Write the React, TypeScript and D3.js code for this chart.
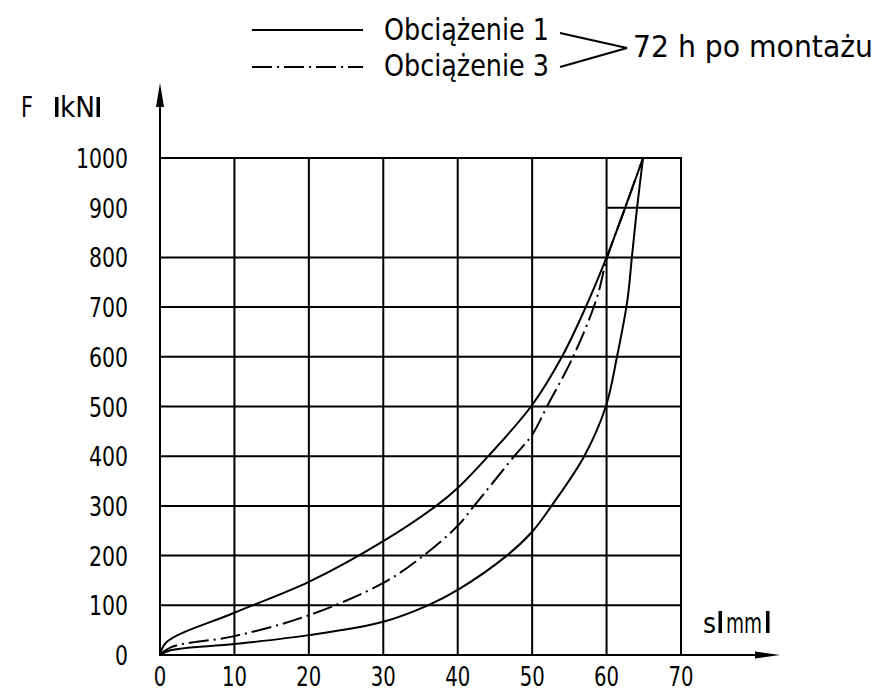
import React from "react";
import * as d3 from "d3";

// ---- data ----
const xTicks = [0, 10, 20, 30, 40, 50, 60, 70];
const yTicks = [0, 100, 200, 300, 400, 500, 600, 700, 800, 900, 1000];
const hGridFull = [100, 200, 300, 400, 500, 600, 700, 800, 1000];
const hGridPartial = [900]; // only in the 60–70 column
const vGrid = [10, 20, 30, 40, 50, 60, 70];

// Obciążenie 1 – loading branch (solid, upper)
const load1S = [0, 0.9, 10, 20, 30, 37.1, 40, 44.1, 50, 54, 57.2, 60, 62.5, 64.9];
const load1F = [0, 26, 85, 147, 229, 300, 336, 400, 503, 600, 700, 800, 900, 1000];

// Obciążenie 1 – second solid branch (lower)
const load1bS = [0, 1.3, 10, 20, 30, 36, 40, 46.6, 50, 52.6, 57, 59.9, 61.4, 62.8, 63.4, 64.1, 64.9];
const load1bF = [0, 9, 22, 40, 67, 100, 131, 200, 248, 300, 400, 500, 600, 714, 800, 900, 1000];

// Obciążenie 3 (dash-dot)
const load3S = [0, 1.5, 10, 20, 30, 35.4, 40, 42.2, 47.6, 50, 52, 55.5, 58.6, 60.1, 62.5, 64.9];
const load3F = [0, 16, 38, 80, 145, 200, 260, 300, 400, 443, 500, 600, 714, 800, 900, 1000];

const legendLabels = ["Obciążenie 1", "Obciążenie 3"];
const legendNote = "72 h po montażu";

const FONT = "'Liberation Sans Narrow', 'DejaVu Sans Condensed', 'DejaVu Sans', sans-serif";

export default function App() {
  const x = d3.scaleLinear().domain([0, 70]).range([160, 681]);
  const y = d3.scaleLinear().domain([0, 1000]).range([655, 158]);

  const line = d3
    .line<[number, number]>()
    .x((d) => x(d[0]))
    .y((d) => y(d[1]))
    .curve(d3.curveCatmullRom.alpha(0.5));

  const zip = (s: number[], f: number[]) => s.map((v, i) => [v, f[i]] as [number, number]);

  const stroke = "#000";
  const gw = 2;

  return (
    <svg width={884} height={693} style={{ position: "absolute", left: 0, top: 0, background: "#fff" }}>
      <rect x={0} y={0} width={884} height={693} fill="#fff" />
      {/* grid */}
      {hGridFull.map((v) => (
        <line key={"h" + v} x1={x(0)} x2={x(70)} y1={y(v)} y2={y(v)} stroke={stroke} strokeWidth={gw} />
      ))}
      {hGridPartial.map((v) => (
        <line key={"hp" + v} x1={x(60)} x2={x(70)} y1={y(v)} y2={y(v)} stroke={stroke} strokeWidth={gw} />
      ))}
      {vGrid.map((v) => (
        <line key={"v" + v} x1={x(v)} x2={x(v)} y1={y(0)} y2={y(1000) - 1} stroke={stroke} strokeWidth={gw} />
      ))}
      {/* axes */}
      <line x1={x(0)} x2={x(0)} y1={y(0) + 1} y2={100} stroke={stroke} strokeWidth={gw} />
      <polygon points={`${x(0) - 4},107 ${x(0) + 4},107 ${x(0)},83`} fill={stroke} />
      <line x1={x(0) - 1} x2={765} y1={y(0)} y2={y(0)} stroke={stroke} strokeWidth={gw} />
      <polygon points={`755,${y(0) - 3.5} 755,${y(0) + 3.5} 780,${y(0)}`} fill={stroke} />

      {/* curves */}
      <path d={line(zip(load1S, load1F)) || ""} fill="none" stroke={stroke} strokeWidth={2} />
      <path d={line(zip(load1bS, load1bF)) || ""} fill="none" stroke={stroke} strokeWidth={2} />
      <path
        d={line(zip(load3S, load3F)) || ""}
        fill="none"
        stroke={stroke}
        strokeWidth={2}
        strokeDasharray="20,5,2,5"
      />

      {/* tick labels */}
      {yTicks.map((v) => {
        const s = String(v);
        return (
          <text
            key={"yl" + v}
            x={128 - s.length * 13}
            y={y(v) + 10}
            fontFamily={FONT}
            fontSize={27}
            textLength={s.length * 13}
            lengthAdjust="spacingAndGlyphs"
          >
            {s}
          </text>
        );
      })}
      {xTicks.map((v) => {
        const s = String(v);
        const w = s.length * 12.5;
        return (
          <text
            key={"xl" + v}
            x={x(v) - w / 2}
            y={686}
            fontFamily={FONT}
            fontSize={26}
            textLength={w}
            lengthAdjust="spacingAndGlyphs"
          >
            {s}
          </text>
        );
      })}

      {/* axis titles */}
      <text x={21} y={117} fontFamily={FONT} fontSize={28} textLength={12} lengthAdjust="spacingAndGlyphs">F</text>
      <rect x={55} y={97} width={3.5} height={20} fill={stroke} />
      <text x={60} y={117} fontFamily={FONT} fontSize={28} textLength={35} lengthAdjust="spacingAndGlyphs">kN</text>
      <rect x={96.5} y={97} width={3.5} height={20} fill={stroke} />

      <text x={703} y={633} fontFamily={FONT} fontSize={28} textLength={13} lengthAdjust="spacingAndGlyphs">s</text>
      <rect x={718.5} y={611} width={3.5} height={22} fill={stroke} />
      <text x={726} y={633} fontFamily={FONT} fontSize={28} textLength={36} lengthAdjust="spacingAndGlyphs">mm</text>
      <rect x={766} y={611} width={3.5} height={22} fill={stroke} />

      {/* legend */}
      <line x1={252} x2={363} y1={30} y2={30} stroke={stroke} strokeWidth={2} />
      <line x1={252} x2={363} y1={67} y2={67} stroke={stroke} strokeWidth={2} strokeDasharray="20,5,2,5" />
      <text x={384} y={40} fontFamily={FONT} fontSize={31} textLength={165} lengthAdjust="spacingAndGlyphs">
        {legendLabels[0]}
      </text>
      <text x={384} y={76} fontFamily={FONT} fontSize={31} textLength={165} lengthAdjust="spacingAndGlyphs">
        {legendLabels[1]}
      </text>
      <polyline points="560,33 627,48 560,67" fill="none" stroke={stroke} strokeWidth={2.2} />
      <text x={633} y={57} fontFamily={FONT} fontSize={31} textLength={240} lengthAdjust="spacingAndGlyphs">
        {legendNote}
      </text>
    </svg>
  );
}
